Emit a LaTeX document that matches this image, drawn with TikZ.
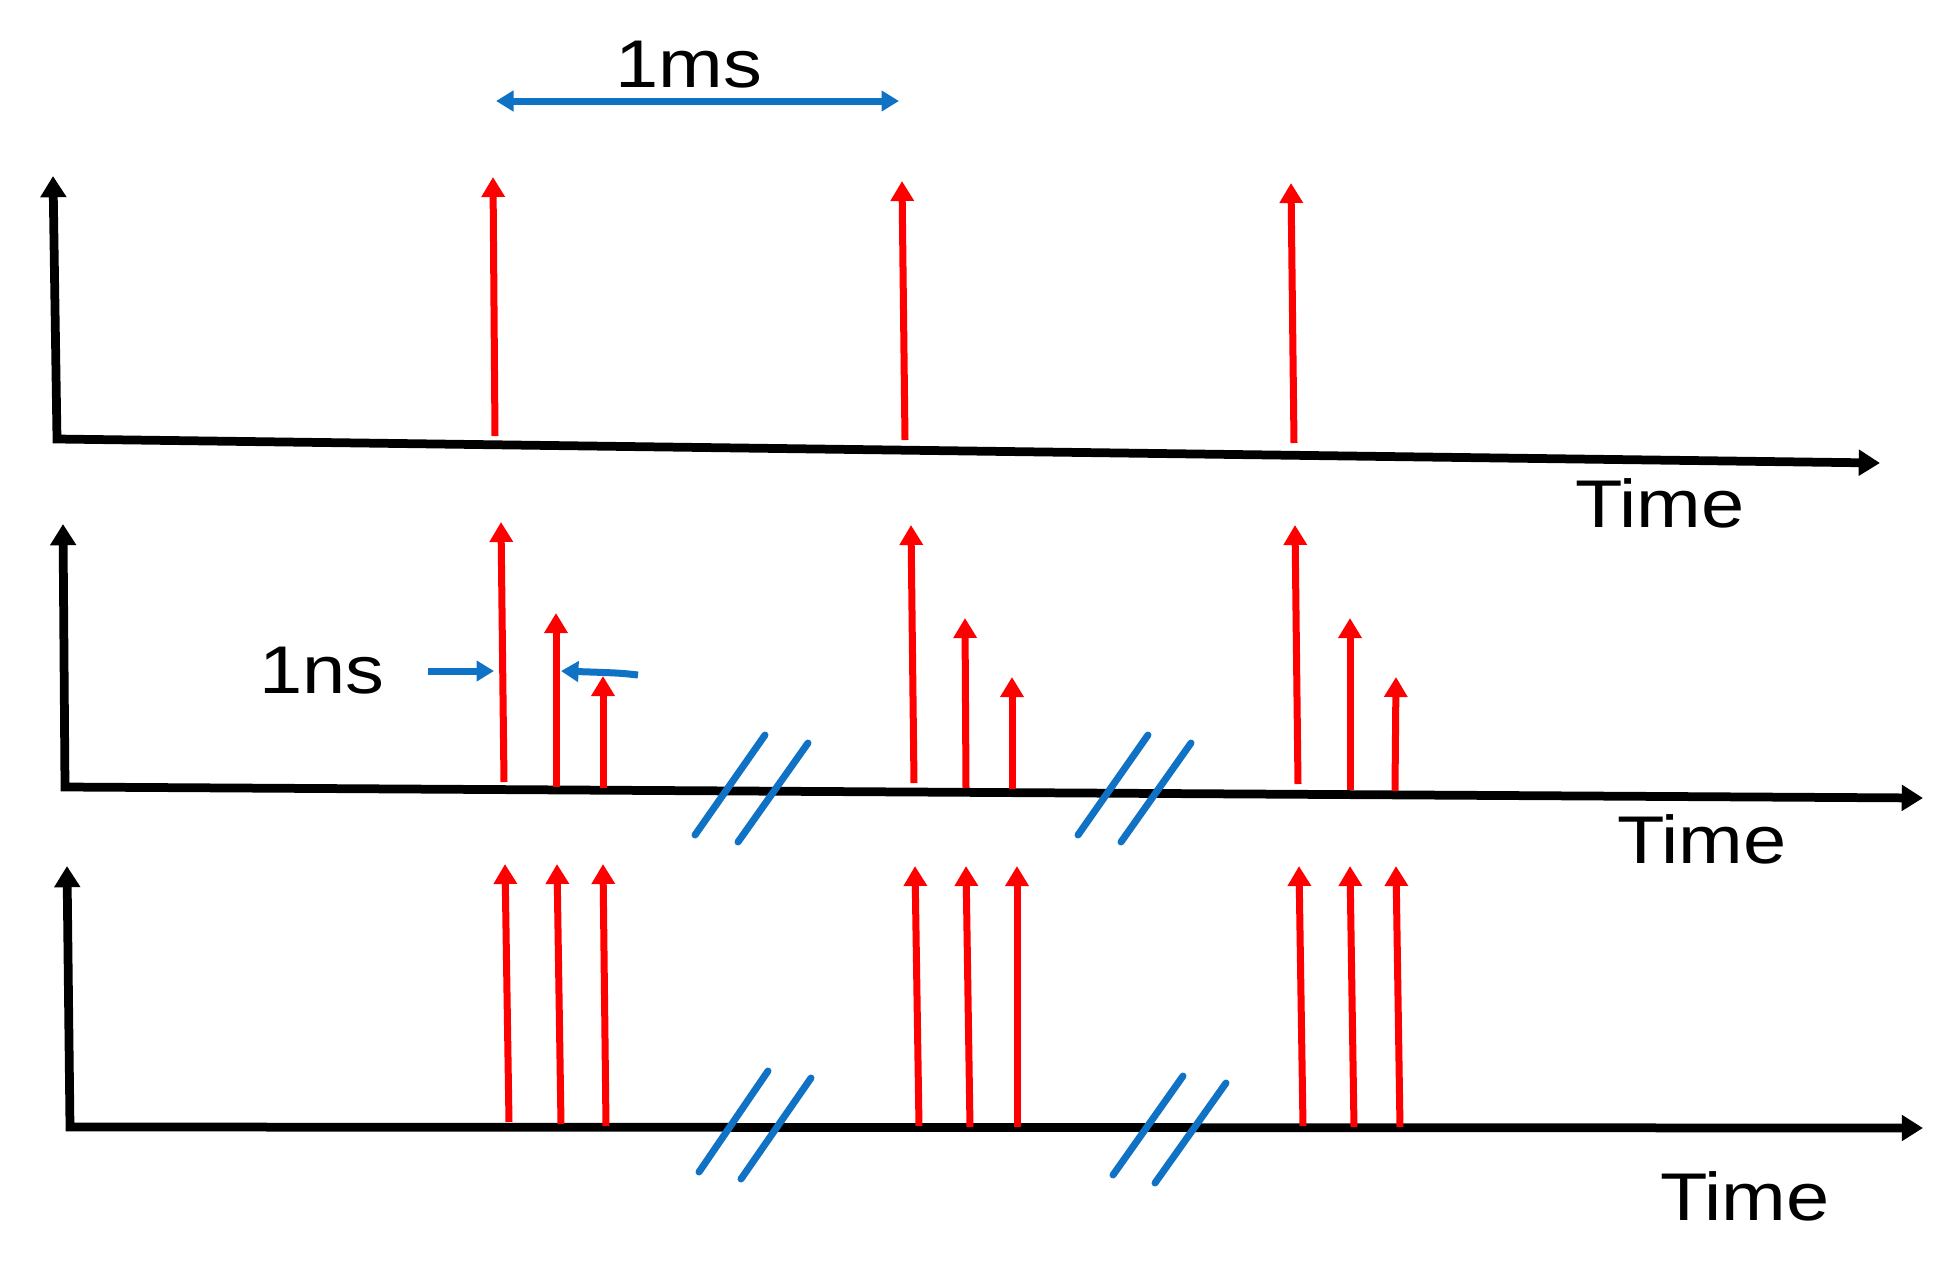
\documentclass[tikz,border=0pt]{standalone}
\usepackage{fontspec}
\setmainfont{Liberation Sans}
\usetikzlibrary{arrows.meta}
\definecolor{pulsered}{RGB}{255,0,0}
\definecolor{markblue}{RGB}{16,114,196}
\begin{document}
\begin{tikzpicture}[x=0.4pt,y=-0.4pt,
  axis/.style={line width=3.5pt, black, line join=miter,
    {Triangle[width=10pt,length=8.5pt]}-{Triangle[width=10pt,length=8.5pt]}},
  pulse/.style={line width=2.8pt, pulsered, -{Triangle[width=9pt,length=8pt]}},
  brk/.style={line width=2.8pt, markblue, line cap=round},
  dimarrow/.style={line width=2.8pt, markblue, -{Triangle[width=8pt,length=7pt]}},
  dimboth/.style={line width=2.8pt, markblue, {Triangle[width=8pt,length=7pt]}-{Triangle[width=8pt,length=7pt]}},
  lbl/.style={font=\fontsize{27}{32}\selectfont, xscale=1.15, anchor=base, inner sep=0pt}]
\useasboundingbox (0,0) rectangle (1942,1262);

% ---------- panel 1 ----------
\coordinate (a1t) at (53,176);
\coordinate (a1c) at (57,439);
\coordinate (a1e) at (1880,463);
\draw[axis] (a1t) -- (a1c) -- (a1e);
\node[lbl] (time1) at (1660,527) {Time};

\draw[pulse] (495,436) -- (493,177);
\draw[pulse] (905,440) -- (902,181);
\draw[pulse] (1294,443) -- (1291,183);

\coordinate (ms1) at (496,101);
\coordinate (ms2) at (899,101);
\draw[dimboth] (ms1) -- (ms2);
\node[lbl] (ms) at (689,87) {1ms};

% ---------- panel 2 ----------
\coordinate (a2t) at (63,524);
\coordinate (a2c) at (65,787);
\coordinate (a2e) at (1923,798);
\draw[axis] (a2t) -- (a2c) -- (a2e);
\node[lbl] (time2) at (1702,863) {Time};

\draw[pulse] (504,782) -- (501,522);
\draw[pulse] (556,787) -- (556,613);
\draw[pulse] (603,788) -- (603,676);
\draw[pulse] (914,783) -- (911,525);
\draw[pulse] (966,788) -- (965,618);
\draw[pulse] (1012,789) -- (1012,677);
\draw[pulse] (1298,784) -- (1295,525);
\draw[pulse] (1350,790) -- (1350,618);
\draw[pulse] (1395,791) -- (1396,677);

\node[lbl] (ns) at (322,693) {1ns};
\coordinate (nsL0) at (428,671);
\coordinate (nsL1) at (494,671);
\coordinate (nsR0) at (638,675);
\coordinate (nsR1) at (561,671);
\draw[dimarrow] (nsL0) -- (nsL1);
\draw[dimarrow] (nsR0) .. controls (620,673) .. (nsR1);

\draw[brk] (695,835) -- (765,735);
\draw[brk] (738,842) -- (808,743);
\draw[brk] (1078,835) -- (1148,735);
\draw[brk] (1121,842) -- (1191,743);

% ---------- panel 3 ----------
\coordinate (a3t) at (67,866);
\coordinate (a3c) at (70,1127);
\coordinate (a3e) at (1923,1128);
\draw[axis] (a3t) -- (a3c) -- (a3e);
\node[lbl] (time3) at (1745,1220) {Time};

\draw[pulse] (509,1122) -- (505,864);
\draw[pulse] (561,1124) -- (557,864);
\draw[pulse] (606,1126) -- (603,864);
\draw[pulse] (919,1126) -- (915,866);
\draw[pulse] (970,1127) -- (966,866);
\draw[pulse] (1017,1127) -- (1017,866);
\draw[pulse] (1303,1126) -- (1299,866);
\draw[pulse] (1354,1127) -- (1350,866);
\draw[pulse] (1400,1127) -- (1396,866);

\draw[brk] (699,1172) -- (768,1071);
\draw[brk] (741,1179) -- (811,1078);
\draw[brk] (1113,1175) -- (1183,1076);
\draw[brk] (1155,1183) -- (1226,1083);
\end{tikzpicture}
\end{document}
